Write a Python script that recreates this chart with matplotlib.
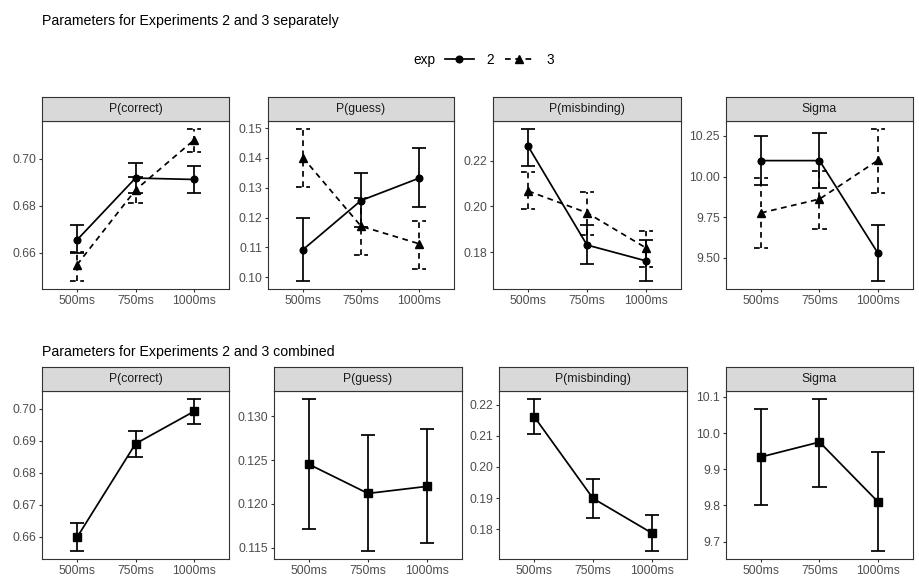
import numpy as np
import matplotlib.pyplot as plt

plt.rcParams["font.family"] = ["Liberation Sans", "DejaVu Sans"]

W, H = 919, 577

delays = ["500ms", "750ms", "1000ms"]
params = ["P(correct)", "P(guess)", "P(misbinding)", "Sigma"]

# ── experiments 2 and 3 separately (rows follow `params`) ─────────────────────
exp2_mean = [[0.6654, 0.6918, 0.6912],
             [0.1092, 0.1257, 0.1332],
             [0.2262, 0.1831, 0.1762],
             [10.098, 10.098, 9.528]]
exp2_lo = [[0.6597, 0.6853, 0.6853],
           [0.0986, 0.1168, 0.1234],
           [0.2178, 0.1748, 0.1672],
           [9.945, 9.930, 9.354]]
exp2_hi = [[0.6717, 0.6983, 0.6969],
           [0.1199, 0.1349, 0.1433],
           [0.2340, 0.1918, 0.1851],
           [10.250, 10.266, 9.703]]

exp3_mean = [[0.6548, 0.6867, 0.7080],
             [0.1401, 0.1171, 0.1112],
             [0.2067, 0.1972, 0.1819],
             [9.776, 9.861, 10.100]]
exp3_lo = [[0.6477, 0.6813, 0.7030],
           [0.1301, 0.1075, 0.1028],
           [0.1987, 0.1874, 0.1736],
           [9.558, 9.676, 9.897]]
exp3_hi = [[0.6604, 0.6921, 0.7129],
           [0.1498, 0.1266, 0.1188],
           [0.2150, 0.2061, 0.1893],
           [9.991, 10.034, 10.295]]

# ── experiments combined ──────────────────────────────────────────────────────
comb_mean = [[0.6599, 0.6891, 0.6992],
             [0.1245, 0.1212, 0.1220],
             [0.2161, 0.1899, 0.1788],
             [9.934, 9.975, 9.810]]
comb_lo = [[0.6555, 0.6850, 0.6952],
           [0.1171, 0.1146, 0.1156],
           [0.2104, 0.1837, 0.1729],
           [9.801, 9.851, 9.673]]
comb_hi = [[0.6643, 0.6932, 0.7032],
           [0.1320, 0.1279, 0.1285],
           [0.2219, 0.1961, 0.1847],
           [10.067, 10.095, 9.948]]

top_ticks = [[0.66, 0.68, 0.70],
             [0.10, 0.11, 0.12, 0.13, 0.14, 0.15],
             [0.18, 0.20, 0.22],
             [9.50, 9.75, 10.00, 10.25]]
top_fmt = ["{:.2f}", "{:.2f}", "{:.2f}", "{:.2f}"]
bot_ticks = [[0.66, 0.67, 0.68, 0.69, 0.70],
             [0.115, 0.120, 0.125, 0.130],
             [0.18, 0.19, 0.20, 0.21, 0.22],
             [9.7, 9.8, 9.9, 10.0, 10.1]]
bot_fmt = ["{:.2f}", "{:.3f}", "{:.2f}", "{:.1f}"]

# panel boxes in pixels (x0, x1), rows (y_strip_top, y_panel_top, y_panel_bottom)
top_x = [(42, 229), (268, 454), (493, 681), (726, 913)]
bot_x = [(42, 229), (274, 462), (499, 687), (726, 913)]
top_y = (97, 121, 289)
bot_y = (367, 391, 559)

EDGE = "#333333"
TICKC = "#4D4D4D"
DASH = (0, (3.3, 2.6))
CAP = 0.12
LW = 1.25


def frac(x0, x1, y0, y1):
    return [x0 / W, 1 - y1 / H, (x1 - x0) / W, (y1 - y0) / H]


def make_panel(xs, ys, title):
    ax = fig.add_axes(frac(xs[0], xs[1], ys[1], ys[2]))
    st = fig.add_axes(frac(xs[0], xs[1], ys[0], ys[1]))
    st.set_facecolor("#D9D9D9")
    st.set_xticks([])
    st.set_yticks([])
    for s in st.spines.values():
        s.set_color(EDGE)
        s.set_linewidth(0.8)
    st.text(0.5, 0.5, title, ha="center", va="center", fontsize=8.8,
            color="#1A1A1A", transform=st.transAxes)
    for s in ax.spines.values():
        s.set_color(EDGE)
        s.set_linewidth(0.8)
    ax.tick_params(colors=EDGE, labelcolor=TICKC, labelsize=8.8, length=2.5,
                   width=0.8, pad=1.8)
    ax.set_xlim(0.4, 3.6)
    ax.set_xticks([1, 2, 3])
    ax.set_xticklabels(delays)
    return ax


def draw_series(ax, mean, lo, hi, marker, ms, ls):
    x = np.arange(1, len(mean) + 1)
    ax.vlines(x, lo, hi, color="black", linewidth=LW, linestyles=ls, zorder=2)
    ax.hlines(lo, x - CAP, x + CAP, color="black", linewidth=LW,
              linestyles=ls, zorder=2)
    ax.hlines(hi, x - CAP, x + CAP, color="black", linewidth=LW,
              linestyles=ls, zorder=2)
    ax.plot(x, mean, color="black", linewidth=LW, linestyle=ls, zorder=3)
    ax.plot(x, mean, linestyle="none", marker=marker, markersize=ms,
            color="black", zorder=4)


def set_ylim(ax, lows, highs, ticks, fmt):
    lo = min(min(l) for l in lows)
    hi = max(max(h) for h in highs)
    pad = 0.05 * (hi - lo)
    ax.set_ylim(lo - pad, hi + pad)
    ax.set_yticks(ticks)
    ax.set_yticklabels([fmt.format(t) for t in ticks])


fig = plt.figure(figsize=(W / 100, H / 100), dpi=100)
fig.patch.set_facecolor("white")

fig.text(42 / W, 1 - 25 / H, "Parameters for Experiments 2 and 3 separately",
         fontsize=10.2, color="black", ha="left", va="baseline")
fig.text(42 / W, 1 - 356 / H, "Parameters for Experiments 2 and 3 combined",
         fontsize=10.2, color="black", ha="left", va="baseline")

# top row
for i, p in enumerate(params):
    ax = make_panel(top_x[i], top_y, p)
    draw_series(ax, exp2_mean[i], exp2_lo[i], exp2_hi[i], "o", 4.8, "solid")
    draw_series(ax, exp3_mean[i], exp3_lo[i], exp3_hi[i], "^", 5.5, DASH)
    set_ylim(ax, [exp2_lo[i], exp3_lo[i]], [exp2_hi[i], exp3_hi[i]],
             top_ticks[i], top_fmt[i])

# bottom row
for i, p in enumerate(params):
    ax = make_panel(bot_x[i], bot_y, p)
    draw_series(ax, comb_mean[i], comb_lo[i], comb_hi[i], "s", 5.2, "solid")
    set_ylim(ax, [comb_lo[i]], [comb_hi[i]], bot_ticks[i], bot_fmt[i])

# legend
fig.text(413 / W, 1 - 60 / H, "exp", fontsize=9.8, ha="left", va="center")
h2, = plt.plot([], [], color="black", linewidth=LW, marker="o", markersize=4.8)
h3, = plt.plot([], [], color="black", linewidth=LW, linestyle=DASH,
               marker="^", markersize=5.5)
fig.legend([h2, h3], ["2", "3"], ncol=2, frameon=False, fontsize=9.8,
           loc="center left", bbox_to_anchor=(445 / W, 1 - 60 / H),
           handlelength=2.1, columnspacing=0.8, handletextpad=0.95,
           borderaxespad=0, borderpad=0)

fig.savefig("out.png", dpi=100)
